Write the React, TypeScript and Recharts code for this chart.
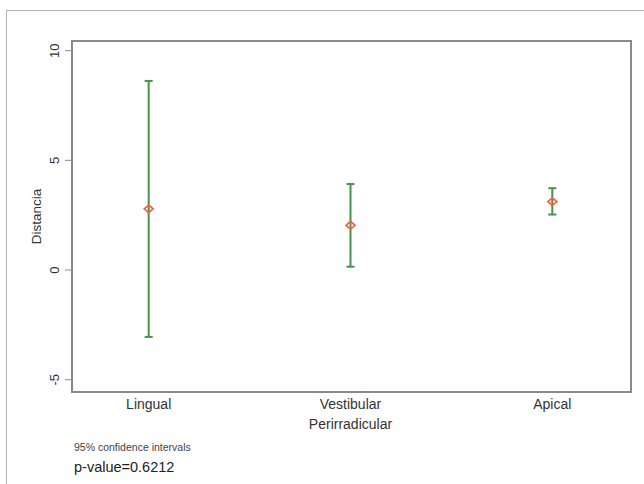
import { ComposedChart, Scatter, ErrorBar, XAxis, YAxis, ReferenceArea } from 'recharts'

// Stata-style CI plot, colours
const FRAME = '#8a8a8a'
const CI_GREEN = '#45944b'
const MEAN_RED = '#f2603f'
const TEXT = '#333'
const FONT = '"Liberation Sans", Arial, sans-serif'

const CATEGORIES = ['Lingual', 'Vestibular\nPerirradicular', 'Apical']
const MEANS = [2.79, 2.04, 3.12]
const LOWER = [-3.05, 0.15, 2.53]
const UPPER = [8.62, 3.92, 3.73]
const Y_TICKS = [-5, 0, 5, 10]

const X_DOMAIN: [number, number] = [0.62, 3.39]
const Y_DOMAIN: [number, number] = [-5.56, 10.44]

const data = CATEGORIES.map((c, i) => ({
  pos: i + 1,
  name: c,
  mean: MEANS[i],
  ci: [MEANS[i] - LOWER[i], UPPER[i] - MEANS[i]],
}))

const Diamond = (props: any) => {
  const { cx, cy } = props
  if (cx == null || cy == null) return null
  return (
    <path
      d={`M${cx - 4.5},${cy} L${cx},${cy - 3.8} L${cx + 4.5},${cy} L${cx},${cy + 3.8} Z`}
      fill="none"
      stroke={MEAN_RED}
      strokeWidth={1.7}
    />
  )
}

const XTick = (props: any) => {
  const { x, y, payload } = props
  const lines = CATEGORIES[payload.value - 1]?.split('\n') ?? []
  return (
    <text x={x} y={y} textAnchor="middle" fill={TEXT} fontSize={14} fontFamily={FONT}>
      {lines.map((l, i) => (
        <tspan key={i} x={x} dy={i === 0 ? 9 : 20}>{l}</tspan>
      ))}
    </text>
  )
}

const YTick = (props: any) => {
  const { x, y, payload } = props
  return (
    <text
      transform={`translate(${x - 4},${y}) rotate(-90)`}
      textAnchor="middle"
      fill={TEXT}
      fontSize={13}
      fontFamily={FONT}
    >
      {payload.value}
    </text>
  )
}

export default function App() {
  return (
    <div style={{ position: 'absolute', left: 0, top: 0, width: 644, height: 484, background: '#fff', fontFamily: FONT }}>
      <div style={{ position: 'absolute', left: 6, top: 10, right: 0, bottom: 0, borderTop: '1.5px solid #b0b0b0', borderLeft: '1.5px solid #b0b0b0' }} />
      <ComposedChart
        width={644}
        height={484}
        data={data}
        margin={{ top: 41, right: 13, bottom: 62, left: 32 }}
        style={{ position: 'absolute', left: 0, top: 0 }}
      >
        <XAxis
          dataKey="pos"
          type="number"
          domain={X_DOMAIN}
          ticks={[1, 2, 3]}
          height={30}
          tickLine={false}
          axisLine={false}
          tick={<XTick />}
          interval={0}
        />
        <YAxis
          type="number"
          domain={Y_DOMAIN}
          ticks={Y_TICKS}
          width={40}
          tickSize={7}
          tickLine={{ stroke: FRAME }}
          axisLine={false}
          tick={<YTick />}
          allowDataOverflow
          label={({ viewBox }: any) => (
            <text
              transform={`translate(${viewBox.x + 9},${viewBox.y + viewBox.height / 2}) rotate(-90)`}
              textAnchor="middle"
              fill={TEXT}
              fontSize={13.5}
              fontFamily={FONT}
            >
              Distancia
            </text>
          )}
        />
        <ReferenceArea
          x1={X_DOMAIN[0]}
          x2={X_DOMAIN[1]}
          y1={Y_DOMAIN[0]}
          y2={Y_DOMAIN[1]}
          fill="none"
          stroke={FRAME}
          strokeWidth={2}
        />
        <Scatter dataKey="mean" shape={<Diamond />} isAnimationActive={false}>
          <ErrorBar dataKey="ci" direction="y" width={4} stroke={CI_GREEN} strokeWidth={2} />
        </Scatter>
      </ComposedChart>
      <div style={{ position: 'absolute', left: 74, top: 441, fontSize: 10.5, color: '#444' }}>95% confidence intervals</div>
      <div style={{ position: 'absolute', left: 74, top: 459, fontSize: 14.5, color: '#222' }}>p-value=0.6212</div>
    </div>
  )
}
